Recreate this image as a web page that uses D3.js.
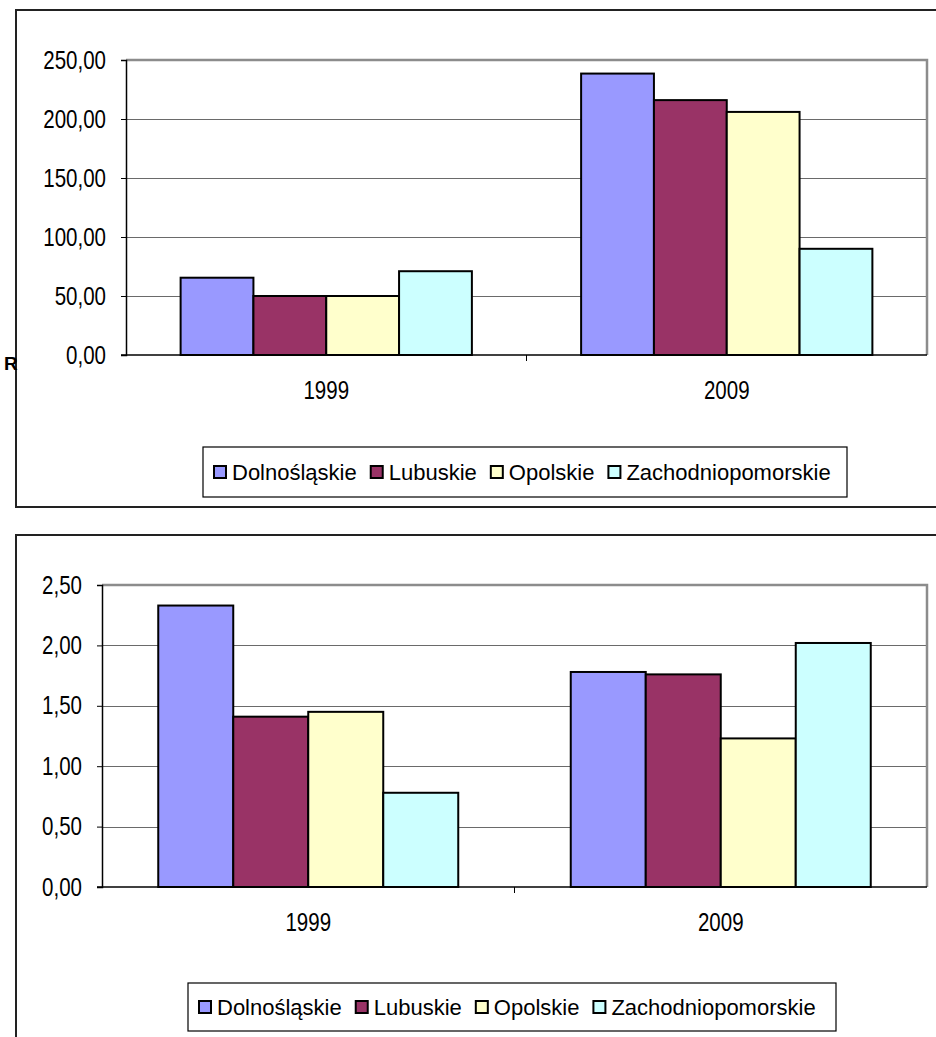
<!DOCTYPE html>
<html>
<head>
<meta charset="utf-8">
<script src="https://cdn.jsdelivr.net/npm/d3@7/dist/d3.min.js"></script>
<style>
  html, body { margin: 0; padding: 0; background: #fff; }
  svg { display: block; }
</style>
</head>
<body>
<script>
// Voivodeships (series) and years (categories)
const regions = ["Dolnośląskie", "Lubuskie", "Opolskie", "Zachodniopomorskie"];
const years = ["1999", "2009"];
const regionColors = ["#9999FF", "#993366", "#FFFFCC", "#CCFFFF"];

// Upper chart values, per year, in region order
const upper1999 = [65.5, 50.0, 50.0, 71.0];
const upper2009 = [238.5, 216.0, 206.0, 90.0];
const upperTicks = [0, 50, 100, 150, 200, 250];

// Lower chart values, per year, in region order
const lower1999 = [2.33, 1.41, 1.45, 0.78];
const lower2009 = [1.78, 1.76, 1.23, 2.02];
const lowerTicks = [0, 0.5, 1.0, 1.5, 2.0, 2.5];

const W = 936, H = 1037;
const svg = d3.select("body").append("svg").attr("width", W).attr("height", H);

const fmt = v => d3.format(".2f")(v).replace(".", ",");
const baseFont = "'Liberation Sans', Arial, sans-serif";

// axis text is set in a condensed face: squeeze glyphs horizontally
function condense(sel, k) {
  sel.each(function () {
    const len = this.getComputedTextLength();
    d3.select(this).attr("textLength", len * k).attr("lengthAdjust", "spacingAndGlyphs");
  });
}

function drawChart(opt) {
  const g = svg.append("g");

  // outer chart frame
  g.append("rect")
    .attr("x", opt.frame[0]).attr("y", opt.frame[1])
    .attr("width", opt.frame[2]).attr("height", opt.frame[3])
    .attr("fill", "#fff").attr("stroke", "#222").attr("stroke-width", 2);

  const [px0, py0, px1, py1] = opt.plot;
  const y = d3.scaleLinear().domain([0, opt.max]).range([py1, py0]);
  const x = d3.scaleBand().domain(years).range([px0, px1]);
  const xs = d3.scaleBand().domain(regions).range([0, x.bandwidth()])
    .paddingInner(0).paddingOuter(0.75);

  // gridlines
  g.append("g").selectAll("line").data(opt.ticks.slice(1))
    .join("line")
    .attr("x1", px0).attr("x2", px1)
    .attr("y1", d => Math.round(y(d)) + 0.5).attr("y2", d => Math.round(y(d)) + 0.5)
    .attr("stroke", "#6a6a6a").attr("stroke-width", 1);

  // plot area border (top and right)
  g.append("path")
    .attr("d", `M${px0},${py0}H${px1}V${py1}`)
    .attr("fill", "none").attr("stroke", "#8c8c8c").attr("stroke-width", 2.5);

  // bars
  const rows = years.map((yr, i) => ({ year: yr, values: opt.values[i] }));
  g.append("g").selectAll("g").data(rows).join("g")
    .attr("transform", d => `translate(${x(d.year)},0)`)
    .selectAll("rect")
    .data(d => d.values.map((v, j) => ({ region: regions[j], value: v, color: regionColors[j] })))
    .join("rect")
    .attr("x", d => xs(d.region))
    .attr("y", d => y(d.value))
    .attr("width", xs.bandwidth())
    .attr("height", d => y(0) - y(d.value))
    .attr("fill", d => d.color)
    .attr("stroke", "#000").attr("stroke-width", 2);

  // value axis
  const yAxis = d3.axisLeft(y).tickValues(opt.ticks).tickFormat(fmt)
    .tickSize(5).tickPadding(15);
  const ya = g.append("g").attr("transform", `translate(${px0},0)`).call(yAxis);
  ya.select(".domain").attr("stroke", "#000").attr("stroke-width", 1.5);
  ya.selectAll(".tick line").attr("stroke", "#000");
  ya.selectAll(".tick text")
    .attr("font-family", baseFont).attr("font-size", 25).attr("fill", "#000")
    .call(condense, 0.82);

  // category axis
  const xa = g.append("g").attr("transform", `translate(0,${py1})`);
  xa.append("line").attr("x1", px0 - 5).attr("x2", px1)
    .attr("stroke", "#000").attr("stroke-width", 1.5);
  xa.selectAll(".sep").data(years.slice(1)).join("line")
    .attr("class", "sep")
    .attr("x1", d => x(d)).attr("x2", d => x(d))
    .attr("y1", 0).attr("y2", 6).attr("stroke", "#000");
  xa.selectAll("text").data(years).join("text")
    .attr("x", d => x(d) + x.bandwidth() / 2)
    .attr("y", opt.catLabelY - py1)
    .attr("text-anchor", "middle")
    .attr("font-family", baseFont).attr("font-size", 25).attr("fill", "#000")
    .text(d => d)
    .call(condense, 0.82);

  // legend
  const [lx, ly, lw, lh] = opt.legend;
  const lg = g.append("g");
  lg.append("rect").attr("x", lx).attr("y", ly).attr("width", lw).attr("height", lh)
    .attr("fill", "#fff").attr("stroke", "#000").attr("stroke-width", 1.2);
  let cx = lx + 11;
  const cy = ly + lh / 2;
  regions.forEach((r, i) => {
    lg.append("rect").attr("x", cx).attr("y", cy - 6).attr("width", 12).attr("height", 12)
      .attr("fill", regionColors[i]).attr("stroke", "#000").attr("stroke-width", 2);
    const t = lg.append("text").attr("x", cx + 18).attr("y", cy + 8)
      .attr("font-family", baseFont).attr("font-size", 22).attr("fill", "#000")
      .text(r);
    cx += 18 + t.node().getComputedTextLength() + 14;
  });
}

drawChart({
  frame: [16, 10, 940, 497],
  plot: [126, 60, 927, 355],
  max: 250,
  ticks: upperTicks,
  values: [upper1999, upper2009],
  catLabelY: 399,
  legend: [203, 447, 644, 50]
});

drawChart({
  frame: [16, 535, 940, 520],
  plot: [102, 585, 927, 887],
  max: 2.5,
  ticks: lowerTicks,
  values: [lower1999, lower2009],
  catLabelY: 931,
  legend: [188, 983, 648, 48]
});

// stray heading letter at the left margin
svg.append("text").attr("x", 4).attr("y", 370)
  .attr("font-family", baseFont).attr("font-weight", "bold").attr("font-size", 19)
  .attr("fill", "#000").text("R");
</script>
</body>
</html>
